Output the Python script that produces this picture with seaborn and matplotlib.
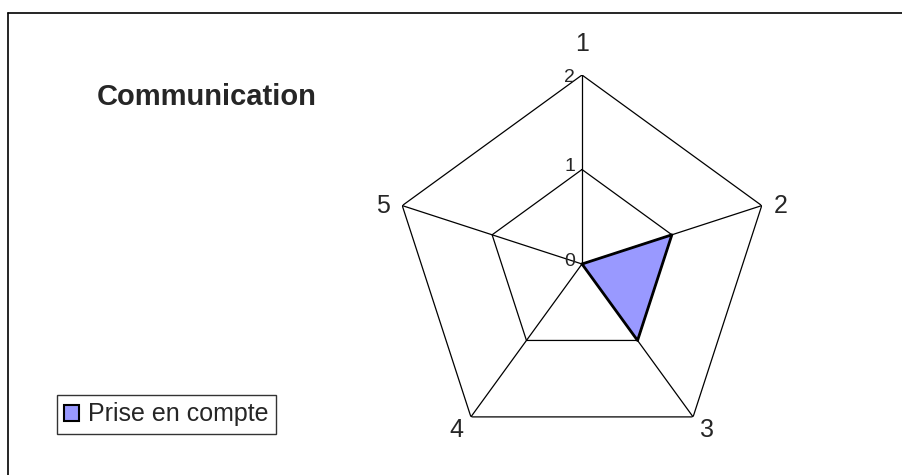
import numpy as np
import pandas as pd
import matplotlib.pyplot as plt
from matplotlib.patches import Patch
from matplotlib.lines import Line2D
import seaborn as sns

# data
categories = ['1', '2', '3', '4', '5']
values = [0, 1, 1, 0, 0]
ticks = [0, 1, 2]
series_name = 'Prise en compte'
title = 'Communication'

sns.set_style('white')
plt.rcParams['font.family'] = ['Liberation Sans', 'DejaVu Sans']

n = len(categories)
theta = np.arange(n) * 2 * np.pi / n
closed = np.append(theta, theta[0])

df = pd.DataFrame({'theta': closed, 'r': values + values[:1]})

fig = plt.figure(figsize=(9.03, 4.75), dpi=100)
cx, cy, R = 582, 264, 189
ax = fig.add_axes([(cx - R) / 903, (475 - cy - R) / 475, 2 * R / 903, 2 * R / 475],
                  projection='polar')
ax.set_theta_offset(np.pi / 2)
ax.set_theta_direction(-1)
ax.set_ylim(0, max(ticks))
ax.grid(False)
ax.spines['polar'].set_visible(False)
ax.set_xticks([])
ax.set_yticks([])
ax.patch.set_alpha(0)

# pentagon grid and spokes
for t in ticks[1:]:
    ax.plot(closed, [t] * (n + 1), color='black', lw=0.9)
for t in theta:
    ax.plot([t, t], [0, max(ticks)], color='black', lw=0.9)

# data polygon
ax.fill(df['theta'], df['r'], color='#9999FF', zorder=3)
sns.lineplot(data=df, x='theta', y='r', sort=False, color='black', lw=2,
             ax=ax, zorder=4, legend=False)
ax.set_xlabel('')
ax.set_ylabel('')

# tick labels on the first spoke
for t in ticks:
    ax.annotate(str(t), (0, t), xytext=(-5, 2 if t < max(ticks) else -2),
                textcoords='offset points', ha='right', va='center', fontsize=14)

# category labels
for t, lab in zip(theta, categories):
    s, c = np.sin(t), np.cos(t)
    ha = 'left' if s > 0.1 else ('right' if s < -0.1 else 'center')
    va = 'bottom' if c > 0.5 else ('top' if c < -0.5 else 'center')
    dx = 9 * s
    dy = 14 if c > 0.5 else (-1 if c < -0.5 else 0)
    ax.annotate(lab, (t, max(ticks)), xytext=(dx, dy), textcoords='offset points',
                ha=ha, va=va, fontsize=18)

fig.text(207 / 903, 1 - 97 / 475, title, fontsize=21, fontweight='bold',
         ha='center', va='center')

handle = Patch(facecolor='#9999FF', edgecolor='black', lw=1.5)
fig.legend([handle], [series_name], loc='lower left',
           bbox_to_anchor=(57 / 903, 1 - 434 / 475), fontsize=18,
           frameon=True, fancybox=False, edgecolor='black',
           handlelength=0.6, handleheight=0.6, handletextpad=0.35,
           borderpad=0.3, borderaxespad=0)

# chart frame (left and top edges)
fig.add_artist(Line2D([8 / 903, 8 / 903], [0, 1 - 13 / 475], color='black', lw=1.2))
fig.add_artist(Line2D([8 / 903, 1], [1 - 13 / 475, 1 - 13 / 475], color='black', lw=1.2))

fig.savefig('out.png', dpi=100)
